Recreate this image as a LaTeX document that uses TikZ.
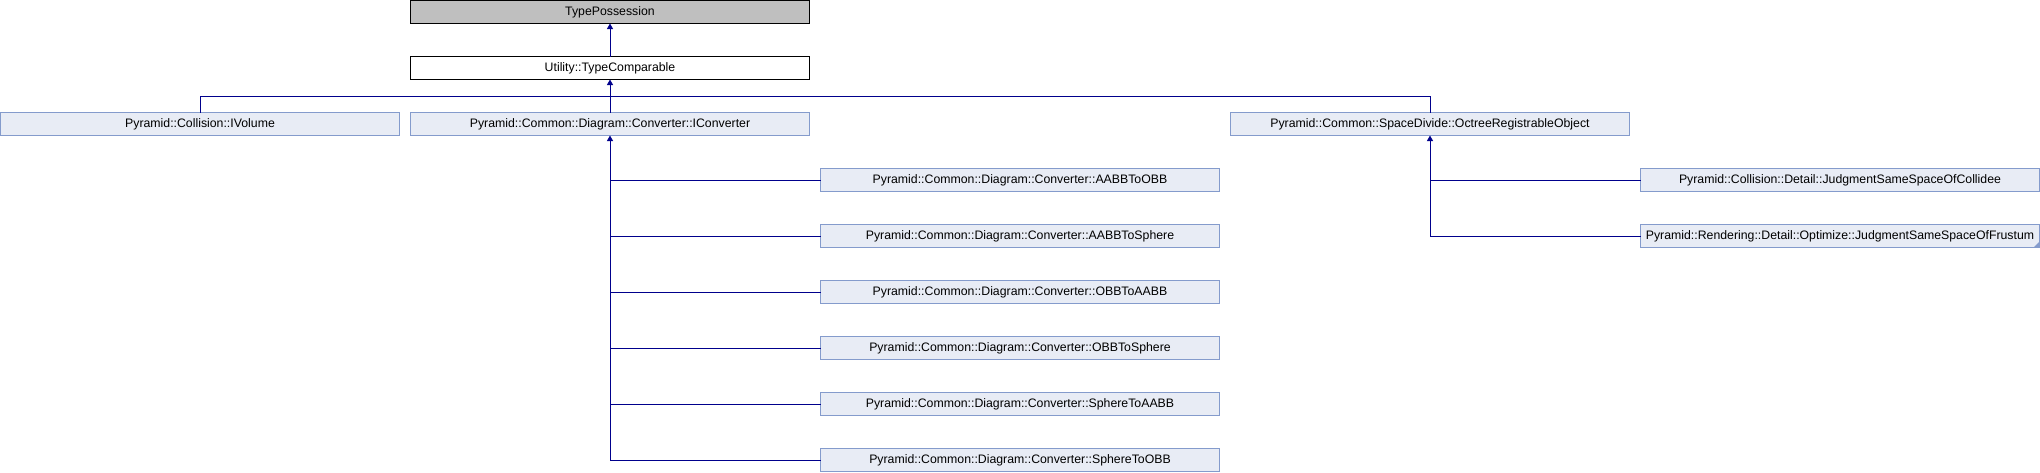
\documentclass[tikz,border=0pt]{standalone}
\usepackage{fontspec}
\setmainfont{Liberation Sans}
\usetikzlibrary{arrows.meta}
\definecolor{edgeblue}{RGB}{0,0,140}
\definecolor{boxfill}{RGB}{232,236,245}
\definecolor{boxline}{RGB}{132,155,204}
\definecolor{focusfill}{RGB}{191,191,191}
\tikzset{
  cls/.style={draw=boxline, fill=boxfill, line width=1pt, minimum width=399pt, minimum height=23pt,
    inner sep=0pt, outer sep=0pt, font=\fontsize{12.3}{14}\selectfont, text=black},
  focuscls/.style={cls, draw=black, fill=focusfill},
  plaincls/.style={cls, draw=black, fill=white},
  inh/.style={draw=edgeblue, line width=1pt},
  inharrow/.style={inh, -{Triangle[width=6pt,length=5.5pt]}},
}
\begin{document}
\begin{tikzpicture}[x=1pt,y=-1pt]
\useasboundingbox (0,0) rectangle (2040,472);
% nodes
\node[focuscls] (tp) at (610,12) {TypePossession};
\node[plaincls] (tc) at (610,68) {Utility::TypeComparable};
\node[cls] (iv) at (200,124) {Pyramid::Collision::IVolume};
\node[cls] (ic) at (610,124) {Pyramid::Common::Diagram::Converter::IConverter};
\node[cls] (oro) at (1430,124) {Pyramid::Common::SpaceDivide::OctreeRegistrableObject};
\node[cls] (c1) at (1020,180) {Pyramid::Common::Diagram::Converter::AABBToOBB};
\node[cls] (c2) at (1020,236) {Pyramid::Common::Diagram::Converter::AABBToSphere};
\node[cls] (c3) at (1020,292) {Pyramid::Common::Diagram::Converter::OBBToAABB};
\node[cls] (c4) at (1020,348) {Pyramid::Common::Diagram::Converter::OBBToSphere};
\node[cls] (c5) at (1020,404) {Pyramid::Common::Diagram::Converter::SphereToAABB};
\node[cls] (c6) at (1020,460) {Pyramid::Common::Diagram::Converter::SphereToOBB};
\node[cls] (j1) at (1840,180) {Pyramid::Collision::Detail::JudgmentSameSpaceOfCollidee};
\node[cls] (j2) at (1840,236) {Pyramid::Rendering::Detail::Optimize::JudgmentSameSpaceOfFrustum};
% corner mark on j2
\fill[boxline] (j2.south east) -- ++(-6,0) -- ++(6,-6) -- cycle;
% coordinates
\coordinate (bus) at (610,96);
\coordinate (busl) at (200,96);
\coordinate (busr) at (1430,96);
\coordinate (icend) at (610,460);
\coordinate (oroend) at (1430,236);
% edges
\draw[inharrow] (tc.north) -- (tp.south);
\draw[inharrow] (bus) -- (tc.south);
\draw[inh] (busl) -- (busr);
\draw[inh] (iv.north) -- (busl);
\draw[inh] (ic.north) -- (bus);
\draw[inh] (oro.north) -- (busr);
% IConverter children
\draw[inharrow] (icend) -- (ic.south);
\foreach \c in {c1,c2,c3,c4,c5,c6} {
  \draw[inh] (\c.west) -- (\c.west -| ic.south);
}
% Octree children
\draw[inharrow] (oroend) -- (oro.south);
\foreach \c in {j1,j2} {
  \draw[inh] (\c.west) -- (\c.west -| oro.south);
}
\end{tikzpicture}
\end{document}
